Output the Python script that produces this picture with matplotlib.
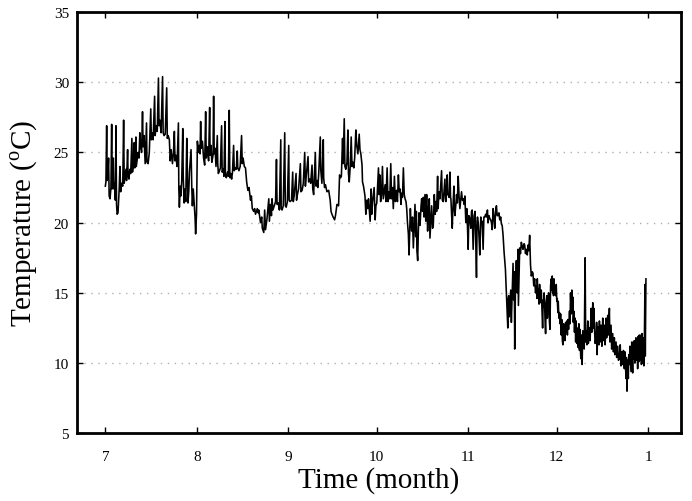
import matplotlib
matplotlib.use('Agg')
import matplotlib.pyplot as plt
import numpy as np

# ---- data: (day since 1 July, temperature in degC) ----
jul = [(0.0,22.6),(0.2,22.9),(0.45,26.9),(0.6,23.0),(0.8,23.3),(1.1,24.6),(1.3,21.9),(1.6,21.7),(1.9,22.5),
       (2.15,27.0),(2.3,22.4),(2.5,23.2),(2.7,24.6),(2.9,22.4),(3.1,22.8),(3.4,21.6),(3.6,26.9),(3.8,21.3),
       (4.0,20.6),(4.3,20.7),(4.5,21.5),(4.7,22.4),(4.95,24.0),(5.2,22.2),(5.5,22.8),(5.9,22.6),(6.2,27.3),
       (6.4,22.8),(6.7,23.3),(7.0,23.8),(7.2,23.0),(7.55,25.2),(7.7,23.4),(8.0,23.1),(8.3,23.8),(8.6,23.5),
       (9.0,26.0),(9.2,23.6),(9.5,24.1),(9.8,25.7),(10.0,23.9),(10.36,26.1),(10.5,24.0),(10.8,24.5),(11.1,25.0),
       (11.4,24.6),(11.7,26.4),(12.0,25.4),(12.3,25.0),(12.6,27.9),(12.8,25.4),(13.1,26.2),(13.5,24.2),
       (13.96,27.1),(14.1,24.3),(14.5,24.2),(14.9,25.0),(15.4,28.1),(15.6,25.9),(15.9,26.4),(16.2,25.9),
       (16.7,29.0),(16.9,26.2),(17.2,26.9),(17.6,26.5),(18.0,30.3),(18.2,26.9),(18.5,27.3),(18.9,26.4),
       (19.4,30.4),(19.6,26.4),(19.9,26.2),(20.3,26.3),(20.8,29.6),(21.0,26.0),(21.3,26.2),(21.7,25.9),
       (22.0,24.4),(22.3,25.2),(22.75,24.2),(23.1,25.0),(23.4,26.5),(23.6,24.4),(23.9,24.8),(24.3,24.0),
       (24.77,27.1),(24.9,22.5),(25.1,21.1),(25.4,22.6),(25.6,21.9),(25.9,23.0),(26.24,26.7),(26.4,23.3),
       (26.7,21.4),(27.0,22.4),(27.25,21.5),(27.6,26.0),(27.8,23.4),(28.0,21.4),(28.3,22.3),(28.5,23.6),
       (29.05,25.2),(29.3,22.5),(29.5,21.2),(29.8,22.4),(30.0,21.7),(30.4,20.4),(30.6,19.2),(30.9,20.6)]
aug = [(31.2,25.8),(31.5,25.0),(31.8,25.5),(32.1,24.9),(32.3,27.2),(32.5,25.3),(32.9,25.8),(33.3,24.6),
       (33.67,24.1),(34.0,27.9),(34.2,24.6),(34.6,25.4),(35.0,24.4),(35.36,28.2),(35.5,24.8),(35.8,25.5),
       (36.1,24.3),(36.5,24.8),(36.7,29.0),(36.9,24.9),(37.2,25.3),(37.5,24.0),(37.95,26.2),(38.1,24.2),
       (38.3,23.5),(38.7,23.7),(39.0,23.9),(39.4,26.9),(39.6,23.6),(40.0,23.8),(40.2,23.3),(40.54,27.2),
       (40.7,23.4),(41.0,23.2),(41.4,23.6),(41.7,23.3),(42.0,28.0),(42.2,23.2),(42.5,23.5),(42.8,23.1),
       (43.1,23.6),(43.47,25.5),(43.7,23.7),(44.0,23.9),(44.4,23.8),(44.7,25.1),(44.9,23.9),(45.3,23.7),
       (45.7,24.0),(46.17,26.2),(46.4,24.2),(46.7,24.6),(47.1,24.0),(47.5,23.9),(47.9,22.9),(48.3,22.3),
       (48.7,22.5),(49.2,21.6),(49.5,21.9),(49.8,21.0),(50.3,20.8),(50.6,21.0),(50.9,20.6),(51.5,21.0),
       (51.8,20.7),(52.0,20.9),(52.6,20.0),(53.0,20.4),(53.2,19.6),(53.7,19.3),(54.0,20.9),(54.3,19.5),
       (54.8,20.3),(55.4,21.7),(55.6,20.1),(56.0,21.3),(56.3,20.5),(56.5,21.7),(56.8,20.9),(57.1,21.1),
       (57.7,21.5),(58.0,24.5),(58.2,21.3),(58.6,21.4),(59.0,20.9),(59.46,25.9),(59.6,21.0),(59.9,20.9),
       (60.3,21.2),(60.8,26.4),(61.0,21.2),(61.3,21.1),(61.7,21.5)]
sep = [(62.16,25.5),(62.3,21.6),(62.6,21.5),(63.1,21.6),(63.5,23.6),(63.7,21.5),(64.0,21.9),(64.64,23.5),
       (64.8,21.6),(65.1,22.0),(65.5,22.4),(66.1,24.2),(66.3,22.2),(66.7,22.3),(67.1,22.8),(67.57,25.0),
       (67.8,22.6),(68.0,23.1),(68.7,24.7),(68.9,22.9),(69.26,23.1),(69.6,22.8),(70.05,24.1),(70.3,22.4),
       (70.6,22.0),(71.17,25.0),(71.4,22.6),(71.73,23.0),(72.0,22.5),(72.3,23.4),(72.86,26.1),(73.0,23.8),
       (73.4,22.8),(73.87,25.9),(74.0,23.2),(74.3,22.5),(74.6,22.7),(75.1,22.2),(75.7,22.3),(76.2,21.6),
       (76.5,20.8),(76.8,20.6),(77.2,20.4),(77.7,20.2),(78.0,20.5),(78.5,21.3),(79.05,21.2),(79.39,23.4),
       (79.7,23.2),(80.0,23.3),(80.4,26.0),(80.6,24.2),(80.97,27.4),(81.2,24.0),(81.5,23.8),(81.9,24.3),
       (82.2,26.6),(82.4,23.5),(82.66,22.9),(83.0,24.0),(83.33,26.1),(83.6,24.0),(83.9,24.3),(84.2,23.9),
       (84.5,24.6),(84.91,26.6),(85.2,25.5),(85.6,24.9),(86.04,26.3),(86.3,25.2),(86.6,24.9),(87.0,24.1),
       (87.16,22.9),(87.5,22.6),(87.73,22.3),(88.0,21.9),(88.29,20.6),(88.6,21.6),(88.96,21.0),(89.2,21.7),
       (89.5,20.8),(89.75,20.1),(90.09,22.4),(90.3,20.6),(90.54,21.4),(91.1,22.5),(91.44,20.2),(91.7,21.2)]
oct_ = [(92.0,21.4),(92.57,23.9),(92.8,22.0),(93.0,23.4),(93.3,21.5),(93.6,22.0),(93.92,24.0),(94.2,21.7),
        (94.5,22.2),(94.82,22.7),(95.1,21.5),(95.5,23.9),(95.8,21.5),(96.1,22.2),(96.4,21.7),(96.74,24.2),
        (97.0,21.7),(97.3,22.5),(97.6,21.0),(97.97,23.3),(98.3,21.5),(98.65,22.3),(99.0,21.5),(99.32,23.4),
        (99.6,22.2),(99.89,22.4),(100.2,21.3),(100.45,22.1),(100.7,21.8),(101.01,23.9),(101.3,22.0),
        (101.58,21.7),(101.9,21.5),(102.14,21.0),(102.4,20.0),(102.7,19.2),(102.93,17.7),(103.2,19.8),
        (103.38,21.0),(103.6,20.0),(103.83,19.4),(104.1,20.4),(104.39,18.2),(104.7,20.0),(104.95,21.3),
        (105.2,19.0),(105.41,20.8),(105.6,18.0),(105.86,17.3),(106.1,19.5),(106.31,20.7),(106.6,19.8),
        (106.76,20.2),(107.0,21.2),(107.21,21.7),(107.5,20.8),(107.77,21.8),(108.0,20.4),(108.33,22.0),
        (108.6,20.1),(108.9,22.0),(109.23,19.4),(109.5,21.0),(109.8,21.7),(110.02,18.9),(110.3,20.0),
        (110.59,21.2),(110.9,19.6),(111.15,19.8),(111.49,22.0),(111.8,20.6),(112.0,21.5),(112.28,20.8),
        (112.61,23.3),(112.8,21.0),(113.06,22.2),(113.4,21.7),(113.96,23.7),(114.2,21.6),(114.53,21.5),
        (115.09,23.1),(115.3,21.6),(115.43,21.5),(115.88,23.4),(116.0,22.0),(116.22,22.0),(116.5,21.8),
        (116.78,23.6),(117.0,21.8),(117.12,21.7),(117.57,19.6),(117.8,21.0),(118.13,22.6),(118.3,21.0),
        (118.47,20.5),(118.8,21.3),(119.03,22.0),(119.3,21.4),(119.59,23.3),(119.9,21.8),(120.16,21.0),
        (120.4,21.5),(120.72,22.2),(121.0,21.6),(121.28,21.7),(121.6,21.3),(121.85,21.9),(122.18,20.0),
        (122.5,21.0),(122.75,19.6)]
nov = [(122.97,18.1),(123.2,20.5),(123.54,20.3),(123.87,19.6),(124.1,20.8),(124.32,20.9),(124.66,18.1),
       (125.0,20.5),(125.3,20.8),(125.45,19.6),(125.79,16.1),(126.0,20.1),(126.13,20.4),(126.4,20.0),
       (126.58,19.3),(126.91,17.7),(127.25,20.4),(127.5,20.0),(127.7,20.1),(128.04,18.1),(128.3,20.4),
       (128.6,20.4),(128.9,20.6),(129.17,20.4),(129.5,20.9),(129.73,20.0),(130.0,20.5),(130.29,20.3),
       (130.6,20.2),(130.86,20.0),(131.1,19.5),(131.42,21.0),(131.7,20.4),(131.98,19.6),(132.3,20.9),
       (132.55,21.2),(132.8,20.5),(133.11,20.5),(133.4,20.7),(133.67,20.2),(134.0,20.4),(134.23,19.9),
       (134.5,19.8),(134.8,19.1),(135.14,17.9),(135.4,17.2),(135.59,16.7),(135.92,15.0),(136.1,14.0),
       (136.26,13.4),(136.4,12.5),(136.5,14.5),(136.71,14.8),(136.9,13.3),(137.16,14.3),(137.4,15.2),
       (137.61,12.9),(137.9,15.0),(138.18,17.1),(138.4,14.5),(138.6,16.5),(138.74,11.0),(139.0,15.5),
       (139.3,17.3),(139.6,15.0),(139.86,18.1),(140.0,14.1),(140.2,16.0),(140.43,18.2),(140.7,17.8),
       (140.99,18.6),(141.3,18.3),(141.55,18.1),(141.9,18.5),(142.12,18.4),(142.4,17.8),(142.68,18.1),
       (143.0,17.7),(143.24,18.4),(143.5,18.0),(143.81,19.1),(144.1,17.0),(144.37,16.2),(144.7,16.5),
       (144.93,16.4),(145.2,15.5),(145.5,16.0),(145.8,15.0),(146.06,15.5),(146.3,14.6),(146.4,16.0),
       (146.6,14.8),(146.85,15.3),(147.0,14.2),(147.18,15.6),(147.4,14.3),(147.52,14.6),(147.75,15.2),
       (148.0,13.8),(148.2,12.5),(148.4,14.5),(148.54,14.0),(148.7,15.0),(148.87,14.4),(149.0,13.2),
       (149.21,12.1),(149.4,14.2),(149.66,14.8),(149.8,13.2),(150.0,13.8),(150.2,15.0),(150.34,14.8),
       (150.5,13.0),(150.68,12.4),(150.9,15.5),(151.13,16.0),(151.3,15.2),(151.46,16.2),(151.6,15.0),
       (151.69,15.7),(151.9,14.8),(152.03,16.0),(152.2,15.0),(152.48,15.4),(152.6,14.8),(152.82,15.6)]
dec = [(153.0,14.4),(153.15,14.6),(153.38,13.6),(153.5,14.4),(153.72,13.2),(153.9,13.6),(154.1,12.8),
       (154.3,13.5),(154.5,12.0),(154.7,13.1),(154.9,11.6),(155.07,11.3),(155.3,12.8),(155.5,11.9),
       (155.63,12.5),(155.8,11.6),(156.0,12.9),(156.19,12.2),(156.4,13.0),(156.6,12.0),(156.76,13.1),
       (157.0,12.4),(157.32,13.7),(157.5,12.8),(157.66,15.0),(157.9,13.5),(158.11,15.2),(158.3,13.6),
       (158.45,14.7),(158.6,12.9),(158.78,13.7),(159.0,12.2),(159.23,13.2),(159.4,11.5),(159.57,13.0),
       (159.8,11.4),(160.14,12.5),(160.3,11.1),(160.5,12.8),(160.7,10.9),(160.9,12.4),(161.1,10.5),
       (161.26,10.3),(161.4,12.0),(161.6,9.9),(161.8,12.3),(162.05,12.1),(162.3,11.0),(162.61,17.5),
       (162.8,11.5),(162.95,12.3),(163.2,11.3),(163.51,13.0),(163.7,11.4),(164.08,12.5),(164.3,11.6),
       (164.64,13.9),(164.9,12.2),(165.2,14.3),(165.4,12.5),(165.6,13.9),(165.77,12.5),(166.0,11.4),
       (166.33,11.8),(166.5,12.9),(166.67,10.6),(166.9,12.6),(167.12,12.2),(167.3,11.3),(167.45,13.0),
       (167.7,11.5),(168.02,12.7),(168.3,11.2),(168.58,13.2),(168.8,11.6),(169.14,12.7),(169.4,11.3),
       (169.71,13.2),(169.9,11.8),(170.27,13.4),(170.5,12.0),(170.83,13.9),(171.0,11.5),(171.4,12.7),
       (171.6,11.0),(171.96,12.1),(172.2,10.8),(172.52,11.8),(172.7,10.6),(173.09,11.5),(173.3,10.4),
       (173.65,11.2),(173.9,10.2),(174.21,10.3),(174.5,11.3),(174.77,9.8),(175.0,10.8),(175.34,9.9),
       (175.6,10.9),(175.9,9.6),(176.1,10.8),(176.46,8.9),(176.6,10.4),(176.8,8.0),(177.0,10.2),
       (177.25,8.9),(177.4,10.6),(177.59,9.9),(177.8,11.2),(178.15,9.4),(178.4,11.5),(178.72,9.3),
       (178.9,11.5),(179.1,10.3),(179.28,11.6),(179.5,10.0),(179.84,11.8),(180.0,10.2),(180.2,11.7),
       (180.41,9.6),(180.6,11.9),(180.8,10.1),(180.97,12.0),(181.2,10.2),(181.53,12.0),(181.7,9.9),
       (181.9,12.1),(182.09,10.0),(182.3,11.8),(182.5,9.8),(182.66,11.0),(182.88,15.6),(183.0,10.5),
       (183.22,16.0)]

month_start_days = [0, 31, 62, 92, 123, 153, 184]
month_labels = ['7', '8', '9', '10', '11', '12', '1']
y_ticks = [5, 10, 15, 20, 25, 30, 35]

series = jul + aug + sep + oct_ + nov + dec
days = np.array([p[0] for p in series])
temps = np.array([p[1] for p in series])

plt.rcParams['font.family'] = ['Liberation Serif', 'DejaVu Serif']
plt.rcParams['mathtext.fontset'] = 'custom'
plt.rcParams['mathtext.rm'] = 'Liberation Serif'

W, H = 692, 502
fig = plt.figure(figsize=(W / 100, H / 100), dpi=100)
ax = fig.add_axes([77.3 / W, (H - 434.3) / H, (680.7 - 77.3) / W, (434.3 - 13) / H])

ax.plot(days, temps, color='black', lw=1.15, zorder=3)

ax.set_xlim(-9.5, 195)
ax.set_ylim(5, 35)
ax.set_xticks(month_start_days)
ax.set_xticklabels(month_labels)
ax.set_yticks(y_ticks)
ax.yaxis.grid(True, linestyle=(0, (1, 4)), color='#b0b0b0', lw=1)
ax.xaxis.grid(False)
ax.tick_params(direction='in', top=True, right=True, length=4, width=1, labelsize=11)
ax.tick_params(axis='x', pad=12)
ax.tick_params(axis='y', pad=6)
for s in ax.spines.values():
    s.set_linewidth(2)

ax.set_xlabel('Time (month)', fontsize=21, labelpad=2)
ax.set_ylabel('Temperature ($^{\\mathrm{o}}$C)', fontsize=21, labelpad=10)

fig.savefig('out.png', dpi=100)
